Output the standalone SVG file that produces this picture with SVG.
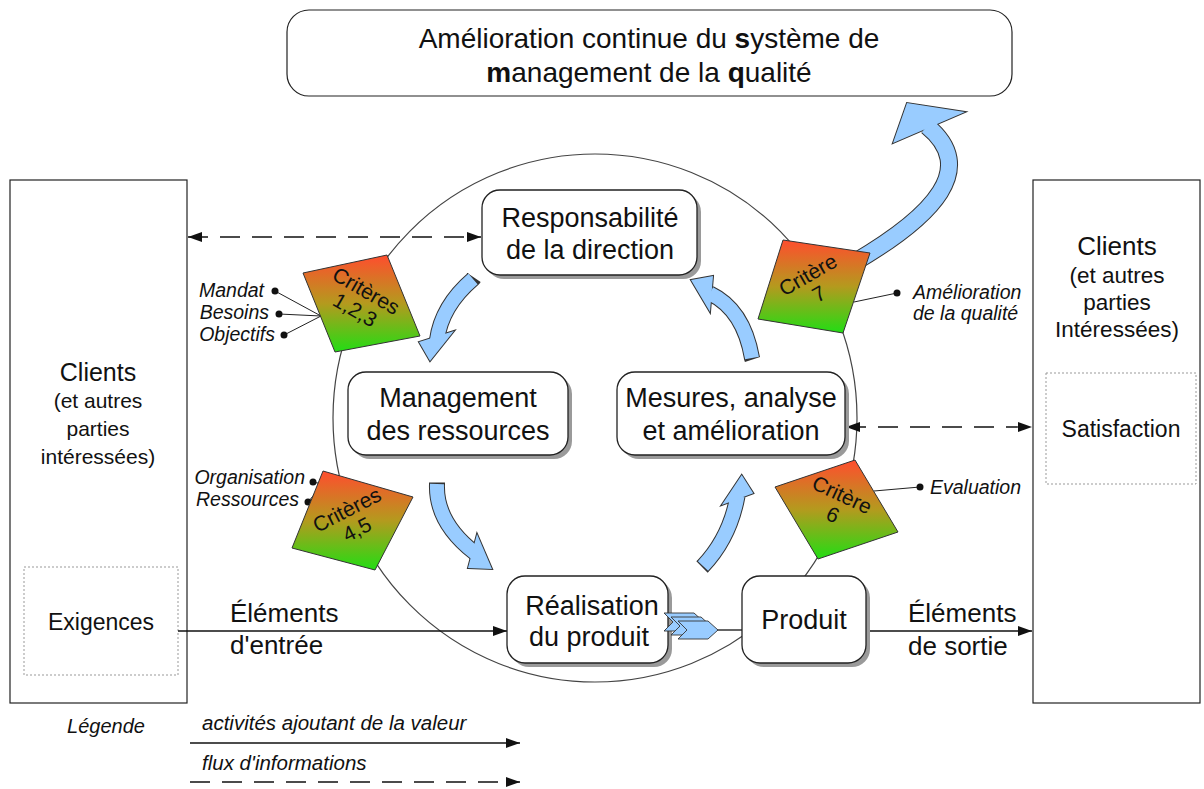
<svg xmlns="http://www.w3.org/2000/svg" xmlns:xlink="http://www.w3.org/1999/xlink" width="1204" height="789" viewBox="0 0 1204 789">
  <style>
    text { font-family: "Liberation Sans", Arial, sans-serif; fill: #111; }
    .node { fill: #fff; stroke: #222; stroke-width: 1.3; }
    .shadow { fill: #9a9a9a; }
    .frame { fill: #fff; stroke: #222; stroke-width: 1.2; }
    .inner { fill: none; stroke: #999; stroke-width: 1; stroke-dasharray: 2 2; }
    .big { font-size: 27px; text-anchor: middle; }
    .lbl { font-size: 19.5px; font-style: italic; }
    .crit { font-size: 21px; text-anchor: middle; }
    .flow { stroke: #111; stroke-width: 1.3; fill: none; }
    .info { stroke: #111; stroke-width: 1.3; fill: none; stroke-dasharray: 20 12; }
    .thin { stroke: #222; stroke-width: 1; fill: none; }
    .dot { fill: #111; }
    .diam { fill: url(#critGrad); stroke: #333; stroke-width: 1; }
    .arrowOut { fill: none; stroke: #333; stroke-linecap: butt; stroke-linejoin: round; }
    .arrowIn { fill: none; stroke: #99ccff; stroke-linecap: butt; stroke-linejoin: round; }
    .headOut { fill: #333; stroke: #333; stroke-width: 2; stroke-linejoin: miter; }
    .headIn { fill: #99ccff; stroke: none; }
    .chev { fill: #99ccff; stroke: #333; stroke-width: 0.9; }
  </style>
  <defs>
    <linearGradient id="critGrad" x1="0" y1="0" x2="0" y2="1">
      <stop offset="0" stop-color="#ff4d2e"/>
      <stop offset="0.5" stop-color="#b49a1e"/>
      <stop offset="1" stop-color="#22dd14"/>
    </linearGradient>
    <marker id="ah" viewBox="0 0 14 10" refX="14" refY="5" markerUnits="userSpaceOnUse" markerWidth="14" markerHeight="10" orient="auto-start-reverse">
      <path d="M0,0 L14,5 L0,10 z" fill="#111"/>
    </marker>
    <path id="chevShape" d="M0,0 L30,0 L40,9 L30,18 L0,18 L9,9 Z"/>
  </defs>

  <rect width="1204" height="789" fill="#fff"/>

  <!-- process cycle -->
  <ellipse id="cycle" cx="595" cy="418" rx="262" ry="264" fill="none" stroke="#444" stroke-width="1.2"/>

  <!-- top box -->
  <g id="amelioration">
    <rect x="287" y="10" width="725" height="86" rx="22" class="frame"/>
    <text x="649" y="48" font-size="28" text-anchor="middle">Amélioration continue du <tspan font-weight="bold">s</tspan>ystème de</text>
    <text x="649" y="82" font-size="28" text-anchor="middle"><tspan font-weight="bold">m</tspan>anagement de la <tspan font-weight="bold">q</tspan>ualité</text>
  </g>

  <!-- customers, input side -->
  <g id="clients-entree">
    <rect x="10" y="180" width="177" height="523" class="frame"/>
    <text x="98" y="381" font-size="25" text-anchor="middle">Clients</text>
    <text x="98" y="408" font-size="21" text-anchor="middle">(et autres</text>
    <text x="98" y="436" font-size="21" text-anchor="middle">parties</text>
    <text x="98" y="464" font-size="21" text-anchor="middle">intéressées)</text>
    <rect x="24" y="567" width="154" height="108" class="inner"/>
    <text x="101" y="630" font-size="23" text-anchor="middle">Exigences</text>
  </g>

  <!-- customers, output side -->
  <g id="clients-sortie">
    <rect x="1033" y="180" width="167" height="523" class="frame"/>
    <text x="1117" y="255" font-size="26" text-anchor="middle">Clients</text>
    <text x="1117" y="283" font-size="22.5" text-anchor="middle">(et autres</text>
    <text x="1117" y="310" font-size="22.5" text-anchor="middle">parties</text>
    <text x="1117" y="337" font-size="22.5" text-anchor="middle">Intéressées)</text>
    <rect x="1046" y="373" width="150" height="111" class="inner"/>
    <text x="1121" y="437" font-size="23" text-anchor="middle">Satisfaction</text>
  </g>

  <!-- connectors -->
  <g id="connectors">
    <line x1="188" y1="237" x2="481" y2="237" class="info" marker-start="url(#ah)" marker-end="url(#ah)"/>
    <line x1="846" y1="427" x2="1032" y2="427" class="info" marker-start="url(#ah)" marker-end="url(#ah)"/>
    <line x1="178" y1="631" x2="507" y2="631" class="flow" marker-end="url(#ah)"/>
    <line x1="716" y1="630" x2="742" y2="630" class="flow"/>
    <line x1="866" y1="631" x2="1032" y2="631" class="flow" marker-end="url(#ah)"/>
    <!-- label leaders -->
    <line x1="275" y1="291" x2="321" y2="316" class="thin"/>
    <line x1="279" y1="314" x2="321" y2="316" class="thin"/>
    <line x1="284" y1="335" x2="321" y2="316" class="thin"/>
    <line x1="313" y1="482" x2="322" y2="484" class="thin"/>
    <line x1="308" y1="502" x2="318" y2="490" class="thin"/>
    <line x1="897" y1="293" x2="854" y2="302" class="thin"/>
    <line x1="920" y1="487" x2="874" y2="491" class="thin"/>
    <circle cx="275" cy="291" r="3.5" class="dot"/>
    <circle cx="279" cy="314" r="3.5" class="dot"/>
    <circle cx="284" cy="335" r="3.5" class="dot"/>
    <circle cx="313" cy="482" r="3.5" class="dot"/>
    <circle cx="308" cy="502" r="3.5" class="dot"/>
    <circle cx="897" cy="293" r="3.5" class="dot"/>
    <circle cx="920" cy="487" r="3.5" class="dot"/>
  </g>

  <!-- curved cycle arrows: dark outline layer, then light fill layer -->
  <g id="cycle-arrows">
    <g>
      <path d="M474,277.5 L473,279 Q441.5,306 437,340" class="arrowOut" stroke-width="16"/>
      <polygon points="419,342 430,361 454,331" class="headOut"/>
      <path d="M473,279 Q441.5,306 437,340" class="arrowIn" stroke-width="14"/>
      <polygon points="419,342 430,361 454,331" class="headIn"/>
    </g>
    <g>
      <path d="M752.5,359.5 L752,358 Q743.5,309.5 710,293.5" class="arrowOut" stroke-width="16"/>
      <polygon points="713,276 691,280 710,312" class="headOut"/>
      <path d="M752,358 Q743.5,309.5 710,293.5" class="arrowIn" stroke-width="14"/>
      <polygon points="713,276 691,280 710,312" class="headIn"/>
    </g>
    <g>
      <path d="M437,482.5 L437,484 Q435.5,522.5 475,553" class="arrowOut" stroke-width="16"/>
      <polygon points="468,568 492,569 477,534" class="headOut"/>
      <path d="M437,484 Q435.5,522.5 475,553" class="arrowIn" stroke-width="14"/>
      <polygon points="468,568 492,569 477,534" class="headIn"/>
    </g>
    <g>
      <path d="M702,567 L703,566 Q730,537.5 737.5,496" class="arrowOut" stroke-width="16"/>
      <polygon points="721.7,505 741.7,475 753.3,493.3" class="headOut"/>
      <path d="M703,566 Q730,537.5 737.5,496" class="arrowIn" stroke-width="14"/>
      <polygon points="721.7,505 741.7,475 753.3,493.3" class="headIn"/>
    </g>
    <!-- improvement arrow towards the top box -->
    <g>
      <path d="M855,262 C935,215 978,168 927,126" class="arrowOut" stroke-width="18"/>
      <polygon points="893,143 907,103 965,112" class="headOut"/>
      <path d="M855,262 C935,215 978,168 927,126" class="arrowIn" stroke-width="16"/>
      <polygon points="893,143 907,103 965,112" class="headIn"/>
    </g>
  </g>

  <!-- criteria -->
  <g id="criteres-123">
    <polygon points="303,273 387,255 420,336 335,352" class="diam"/>
    <g transform="translate(366,291) rotate(30)">
      <text x="0" y="7" class="crit">Critères</text>
      <text x="0" y="29" class="crit">1,2,3</text>
    </g>
  </g>
  <g id="criteres-45">
    <polygon points="323,471 413,497 375,570 292,548" class="diam"/>
    <g transform="translate(347,510) rotate(-27)">
      <text x="0" y="7" class="crit">Critères</text>
      <text x="0" y="29" class="crit">4,5</text>
    </g>
  </g>
  <g id="critere-7">
    <polygon points="783,240 870,253 843,333 758,319" class="diam"/>
    <g transform="translate(808,275) rotate(-30)">
      <text x="0" y="7" class="crit">Critère</text>
      <text x="0" y="29" class="crit">7</text>
    </g>
  </g>
  <g id="critere-6">
    <polygon points="775,487 855,460 898,532 818,559" class="diam"/>
    <g transform="translate(842,495) rotate(25)">
      <text x="0" y="7" class="crit">Critère</text>
      <text x="0" y="29" class="crit">6</text>
    </g>
  </g>

  <!-- criteria labels -->
  <g id="labels">
    <text x="264" y="297" class="lbl" text-anchor="end">Mandat</text>
    <text x="269" y="319" class="lbl" text-anchor="end">Besoins</text>
    <text x="275" y="341" class="lbl" text-anchor="end">Objectifs</text>
    <text x="305" y="484" class="lbl" text-anchor="end">Organisation</text>
    <text x="299" y="506" class="lbl" text-anchor="end">Ressources</text>
    <text x="913" y="299" class="lbl">Amélioration</text>
    <text x="913" y="320" class="lbl">de la qualité</text>
    <text x="930" y="494" class="lbl">Evaluation</text>
    <text x="230" y="622" font-size="26">Éléments</text>
    <text x="230" y="654" font-size="26">d'entrée</text>
    <text x="908" y="622" font-size="26">Éléments</text>
    <text x="908" y="655" font-size="26">de sortie</text>
  </g>

  <!-- processes -->
  <g id="responsabilite">
    <rect x="486" y="194" width="215" height="85" rx="18" class="shadow"/>
    <rect x="482" y="190" width="215" height="85" rx="18" class="node"/>
    <text x="590" y="227" class="big">Responsabilité</text>
    <text x="590" y="259" class="big">de la direction</text>
  </g>
  <g id="management">
    <rect x="352" y="376" width="220" height="83" rx="18" class="shadow"/>
    <rect x="348" y="372" width="220" height="83" rx="18" class="node"/>
    <text x="458" y="407" class="big">Management</text>
    <text x="458" y="440" class="big">des ressources</text>
  </g>
  <g id="mesures">
    <rect x="621" y="376" width="228" height="83" rx="18" class="shadow"/>
    <rect x="617" y="372" width="228" height="83" rx="18" class="node"/>
    <text x="731" y="407" class="big">Mesures, analyse</text>
    <text x="731" y="440" class="big">et amélioration</text>
  </g>
  <g id="realisation">
    <rect x="511" y="580" width="161" height="87" rx="18" class="shadow"/>
    <rect x="507" y="576" width="161" height="87" rx="18" class="node"/>
    <text x="592" y="615" class="big">Réalisation</text>
    <text x="589" y="646" class="big">du produit</text>
  </g>
  <g id="produit">
    <rect x="746" y="580" width="124" height="87" rx="18" class="shadow"/>
    <rect x="742" y="576" width="124" height="87" rx="18" class="node"/>
    <text x="804" y="629" class="big">Produit</text>
  </g>

  <!-- value-adding steps marker between realisation and product -->
  <g id="chevrons">
    <use xlink:href="#chevShape" transform="translate(664,613)" class="chev"/>
    <use xlink:href="#chevShape" transform="translate(671,617)" class="chev"/>
    <use xlink:href="#chevShape" transform="translate(678,621)" class="chev"/>
  </g>

  <!-- legend -->
  <g id="legende">
    <text x="106" y="733" font-size="20" font-style="italic" text-anchor="middle">Légende</text>
    <text x="202" y="730" font-size="20.5" font-style="italic">activités ajoutant de la valeur</text>
    <line x1="190" y1="743" x2="520" y2="743" class="flow" marker-end="url(#ah)"/>
    <text x="202" y="770" font-size="20.5" font-style="italic">flux d'informations</text>
    <line x1="190" y1="782" x2="520" y2="782" class="info" marker-end="url(#ah)"/>
  </g>
</svg>
